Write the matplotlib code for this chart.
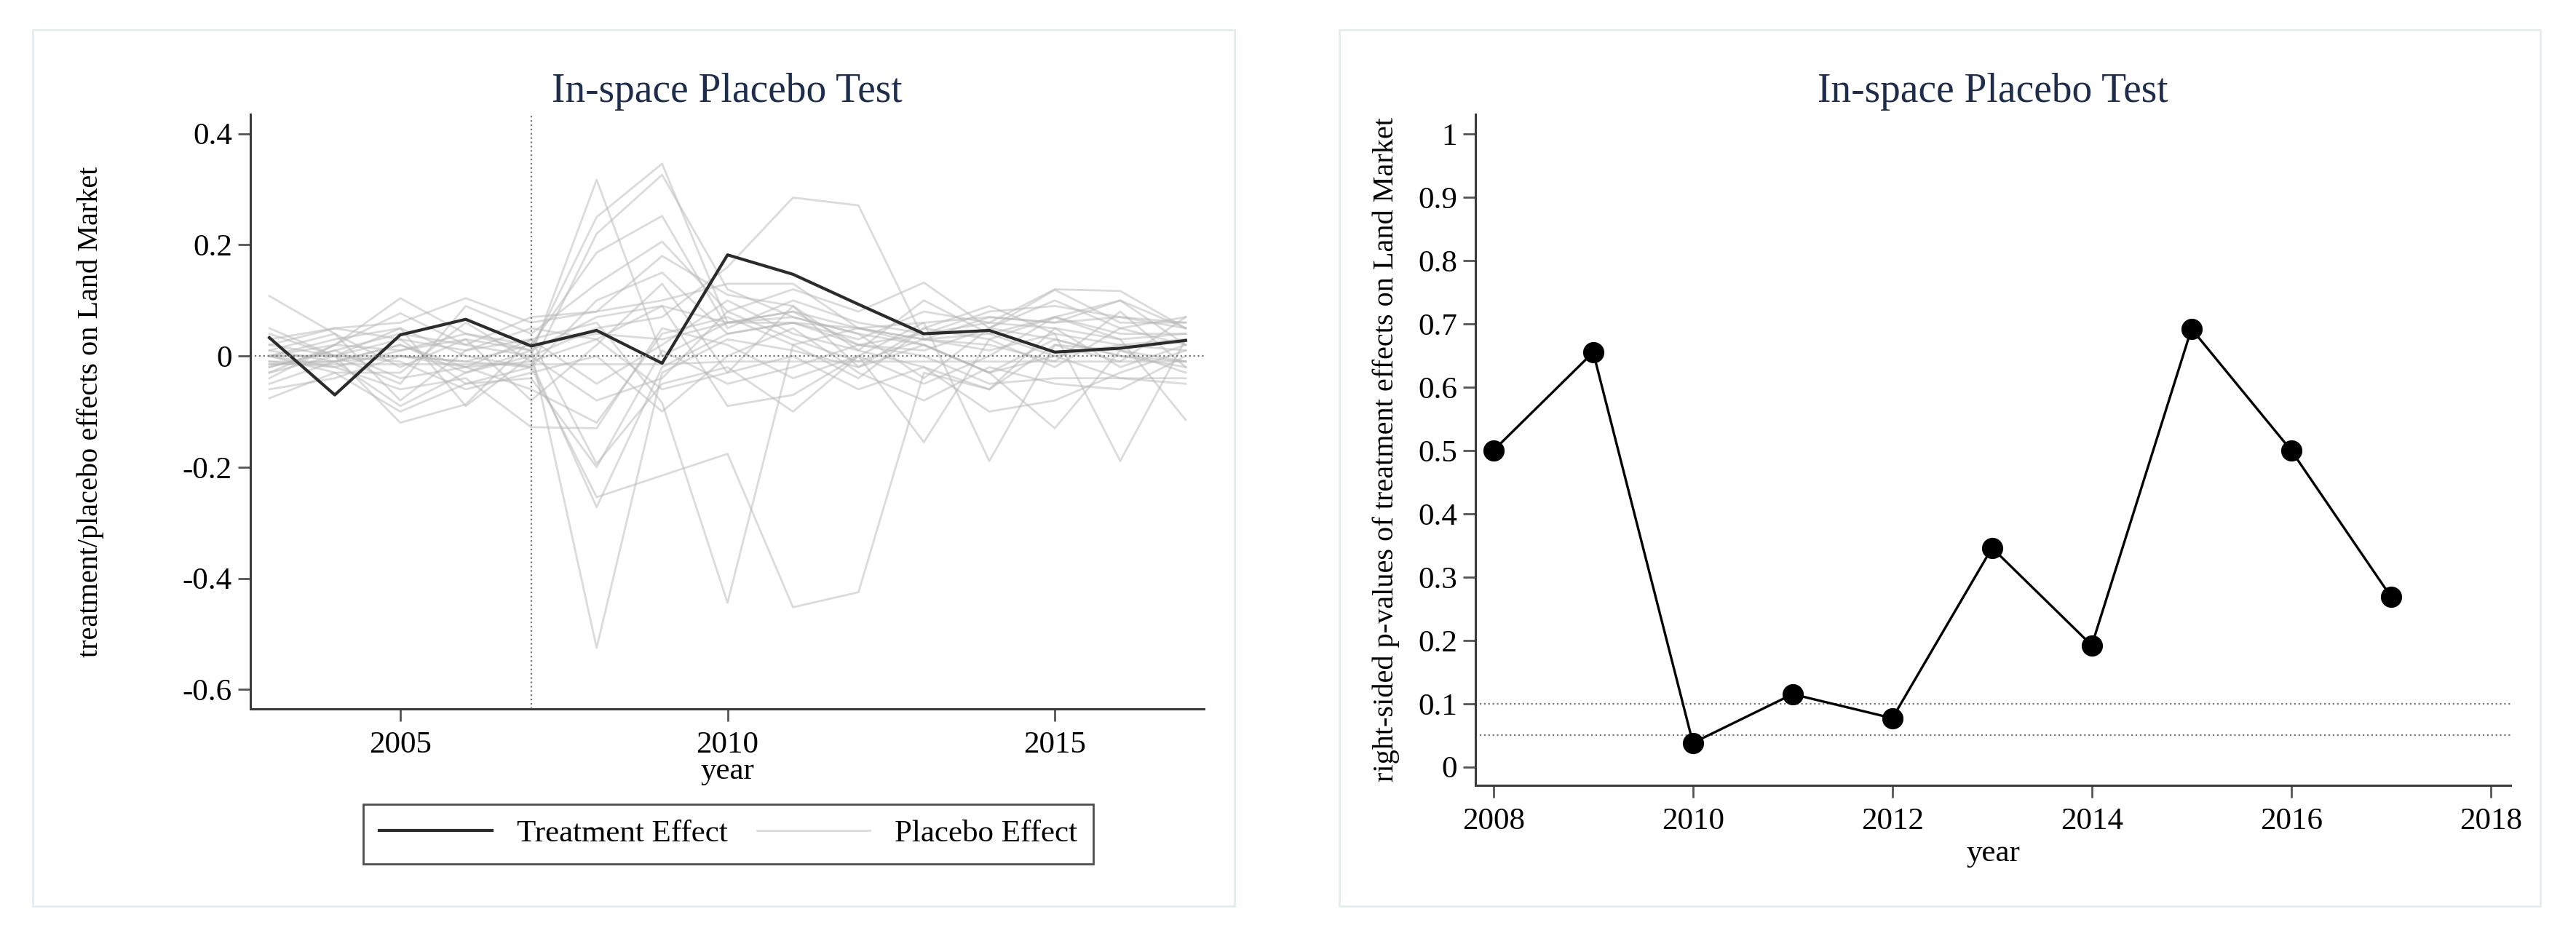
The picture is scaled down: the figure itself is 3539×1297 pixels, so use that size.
import matplotlib
matplotlib.use("Agg")
import matplotlib.pyplot as plt
from matplotlib.lines import Line2D
from matplotlib.patches import Rectangle

years = list(range(2003, 2018))
treatment = [0.033, -0.070, 0.038, 0.066, 0.018, 0.046, -0.013, 0.182,
             0.147, 0.093, 0.040, 0.046, 0.007, 0.014, 0.028]

# placebo units (approximate)
p01 = [0.108, 0.04, -0.02, 0.03, 0.01, -0.525, -0.03, 0.03, 0.01, -0.02, 0.02, -0.03, 0.03, 0.00, -0.01]
p02 = [-0.02, 0.01, -0.04, -0.02, -0.01, -0.272, -0.02, 0.04, 0.06, 0.02, 0.01, 0.05, 0.03, 0.00, -0.02]
p03 = [-0.076, -0.03, -0.10, -0.05, -0.02, -0.254, -0.215, -0.176, -0.452, -0.425, -0.03, -0.06, 0.02, 0.01, -0.01]
p04 = [0.02, 0.00, 0.03, 0.01, 0.03, 0.06, -0.084, -0.444, 0.02, 0.05, 0.03, 0.01, 0.04, 0.02, 0.03]
p05 = [0.00, 0.02, 0.077, 0.02, 0.00, 0.317, 0.00, 0.06, 0.08, 0.02, 0.04, 0.06, 0.05, 0.03, 0.04]
p06 = [-0.01, -0.02, 0.01, 0.04, 0.01, 0.25, 0.346, 0.06, 0.08, 0.05, 0.03, 0.07, 0.06, 0.10, 0.05]
p07 = [0.00, 0.03, 0.05, 0.00, -0.02, 0.22, 0.326, 0.12, 0.07, 0.04, 0.02, -0.03, 0.00, -0.04, -0.05]
p08 = [0.01, -0.01, 0.02, -0.03, 0.00, 0.05, 0.07, 0.16, 0.285, 0.271, 0.03, 0.04, 0.00, 0.02, 0.01]
p09 = [-0.03, 0.02, 0.104, 0.04, 0.02, 0.186, 0.252, 0.05, 0.10, 0.06, 0.04, 0.08, 0.09, 0.07, 0.05]
p10 = [0.05, 0.00, -0.05, 0.09, 0.04, 0.13, 0.206, 0.08, 0.12, 0.08, 0.132, 0.05, 0.119, 0.06, 0.06]
p11 = [0.00, -0.02, -0.06, -0.04, -0.128, -0.13, 0.05, 0.02, -0.04, 0.00, -0.155, 0.03, -0.02, 0.05, 0.02]
p12 = [-0.03, 0.00, -0.12, -0.087, 0.03, -0.194, -0.05, -0.02, -0.10, 0.00, 0.06, -0.189, 0.02, -0.01, 0.07]
p13 = [0.02, 0.05, 0.06, 0.104, 0.06, 0.08, 0.10, 0.13, 0.13, 0.05, 0.02, -0.03, -0.13, 0.01, -0.03]
p14 = [-0.05, -0.01, 0.02, -0.02, -0.06, -0.12, 0.04, 0.07, 0.02, -0.04, 0.05, 0.09, 0.04, -0.189, 0.03]
p15 = [0.01, 0.04, -0.08, 0.01, 0.05, 0.03, 0.09, -0.09, -0.07, 0.00, -0.05, 0.00, 0.07, 0.03, -0.115]
p16 = [-0.01, -0.01, 0.00, -0.01, -0.02, 0.10, 0.15, 0.04, 0.06, 0.03, 0.08, 0.06, 0.12, 0.117, 0.05]
p17 = [0.03, 0.05, 0.03, -0.05, -0.04, -0.20, 0.01, -0.05, -0.02, 0.02, 0.00, -0.05, -0.04, -0.04, -0.04]
p18 = [-0.02, 0.01, 0.04, 0.02, 0.07, 0.08, 0.18, 0.11, 0.09, -0.02, 0.05, 0.03, 0.07, 0.10, 0.02]
p19 = [0.00, -0.03, -0.03, 0.06, -0.01, 0.03, -0.06, -0.03, 0.00, -0.06, -0.02, -0.10, -0.08, -0.03, 0.01]
p20 = [-0.06, -0.04, 0.00, -0.02, 0.03, -0.05, 0.02, 0.10, 0.04, 0.01, 0.10, 0.04, 0.07, 0.04, 0.04]
p21 = [0.04, 0.00, -0.01, -0.06, -0.03, 0.00, -0.10, 0.00, 0.05, -0.03, -0.08, -0.02, -0.05, -0.06, 0.00]
p22 = [-0.015, -0.015, -0.015, -0.015, -0.015, -0.015, -0.015, -0.01, -0.01, -0.01, -0.01, -0.01, -0.01, -0.01, -0.01]
p23 = [0.00, 0.00, 0.00, -0.01, 0.02, 0.04, 0.03, 0.06, 0.06, 0.05, 0.06, 0.07, 0.06, 0.07, 0.06]
p24 = [-0.015, -0.01, -0.09, -0.03, 0.01, 0.07, 0.09, 0.06, 0.07, 0.04, -0.04, 0.05, 0.10, 0.05, 0.07]
p25 = [0.00, 0.00, 0.05, -0.09, 0.00, -0.08, -0.04, 0.08, 0.03, -0.01, 0.03, 0.02, -0.01, 0.08, -0.02]
p26 = [-0.04, 0.02, 0.01, 0.03, -0.08, 0.02, 0.13, -0.03, 0.09, 0.01, -0.02, -0.06, 0.05, -0.02, 0.02]
placebos = [p01, p02, p03, p04, p05, p06, p07, p08, p09, p10, p11, p12, p13,
            p14, p15, p16, p17, p18, p19, p20, p21, p22, p23, p24, p25, p26]

pYears = list(range(2008, 2018))
pValues = [0.50, 0.655, 0.038, 0.115, 0.077, 0.346, 0.192, 0.692, 0.50, 0.269]

leftTicks = [-0.6, -0.4, -0.2, 0, 0.2, 0.4]
leftTickLabels = ["-0.6", "-0.4", "-0.2", "0", "0.2", "0.4"]
rightTicks = [0, 0.1, 0.2, 0.3, 0.4, 0.5, 0.6, 0.7, 0.8, 0.9, 1]
rightTickLabels = ["0", "0.1", "0.2", "0.3", "0.4", "0.5", "0.6", "0.7", "0.8", "0.9", "1"]

plt.rcParams["font.family"] = ["Liberation Serif", "DejaVu Serif"]
titleColor = "#1f2d4d"
axisColor = "#3a3a3a"

figure = plt.figure(figsize=(35.39, 12.97), dpi=100)

# light frames around each panel
for x0, x1 in [(0.0127, 0.4792), (0.5199, 0.9862)]:
    figure.patches.append(Rectangle((x0, 0.0401), x1 - x0, 0.9684 - 0.0401,
                                    transform=figure.transFigure, fill=False,
                                    edgecolor="#e3ecee", linewidth=2))

def styleAxes(ax):
    for side in ["top", "right"]:
        ax.spines[side].set_visible(False)
    for side in ["left", "bottom"]:
        ax.spines[side].set_color(axisColor)
        ax.spines[side].set_linewidth(2.2)
    ax.tick_params(direction="out", length=12, width=2, color="#555555",
                   labelsize=31, pad=6)
    ax.tick_params(axis="x", pad=10)

# left panel
left = figure.add_axes([0.0972, 0.2490, 0.3702, 0.6300])
for series in placebos:
    left.plot(years, series, color="#b8b8b8", alpha=0.5, linewidth=2.0)
left.plot(years, treatment, color="#2b2b2b", linewidth=3.0)
left.axhline(0, color="#777777", linestyle=":", linewidth=1.6)
left.axvline(2007, color="#777777", linestyle=":", linewidth=1.6)
left.set_xlim(2002.71, 2017.28)
left.set_ylim(-0.635, 0.435)
left.set_xticks([2005, 2010, 2015])
left.set_yticks(leftTicks)
left.set_yticklabels(leftTickLabels)
styleAxes(left)
left.set_xlabel("year", fontsize=31, labelpad=-2)
left.set_ylabel("treatment/placebo effects on Land Market", fontsize=29, labelpad=78)
left.set_title("In-space Placebo Test", fontsize=40, color=titleColor, pad=12)

handles = [Line2D([], [], color="#2b2b2b", linewidth=3.0),
           Line2D([], [], color="#dcdcdc", linewidth=2.0)]
legend = figure.legend(handles, ["Treatment Effect", "Placebo Effect"], ncol=2,
                       loc="lower left", bbox_to_anchor=(0.1410, 0.0848, 0.2834, 0.0594),
                       mode="expand", fontsize=31, handlelength=3.6, frameon=True,
                       fancybox=False, borderaxespad=0, borderpad=0.5,
                       columnspacing=2.0)
legend.get_frame().set_edgecolor("#222222")
legend.get_frame().set_linewidth(2)

# right panel
right = figure.add_axes([0.5728, 0.1681, 0.4018, 0.7109])
right.axhline(0.1, color="#777777", linestyle=":", linewidth=1.6)
right.axhline(0.05, color="#777777", linestyle=":", linewidth=1.6)
right.plot(pYears, pValues, color="black", linewidth=2.4, marker="o", markersize=20)
right.set_xlim(2007.82, 2018.2)
right.set_ylim(-0.029, 1.031)
right.set_xticks([2008, 2010, 2012, 2014, 2016, 2018])
right.set_yticks(rightTicks)
right.set_yticklabels(rightTickLabels)
styleAxes(right)
right.set_xlabel("year", fontsize=31, labelpad=4)
right.set_ylabel("right-sided p-values of treatment effects on Land Market", fontsize=29, labelpad=18)
right.set_title("In-space Placebo Test", fontsize=40, color=titleColor, pad=12)

plt.savefig("out.png", dpi=100)
